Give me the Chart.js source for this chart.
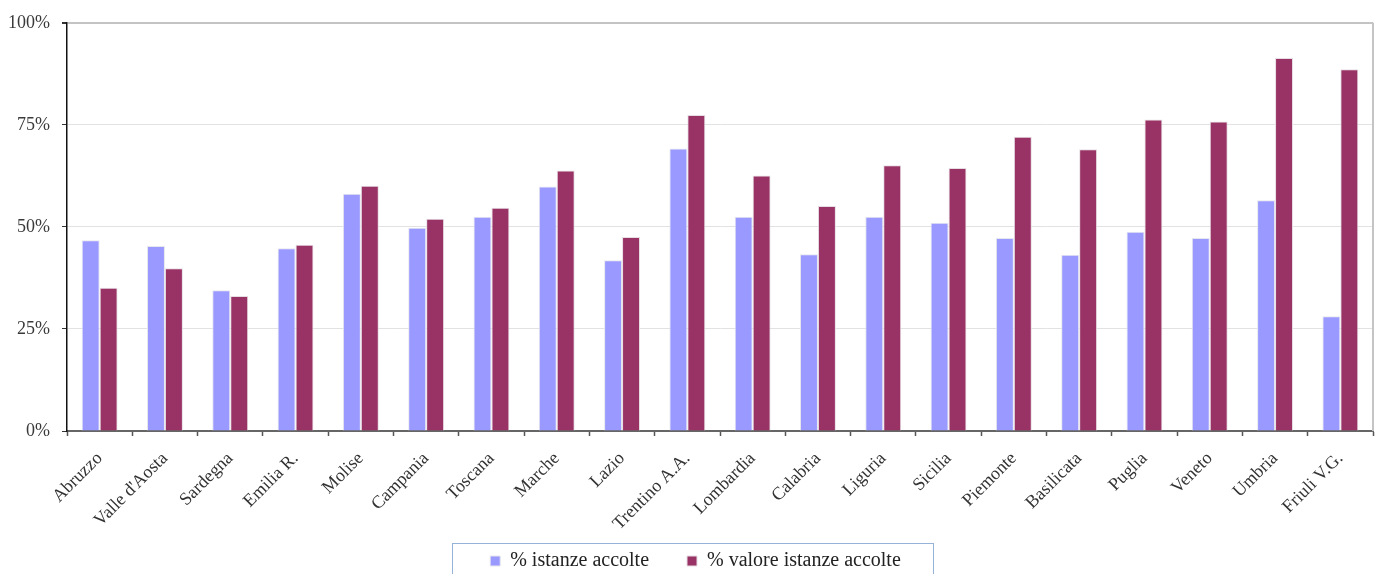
<!DOCTYPE html>
<html>
<head>
<meta charset="utf-8">
<script src="https://cdn.jsdelivr.net/npm/chart.js@4/dist/chart.umd.min.js"></script>
<style>
  html, body { margin: 0; padding: 0; background: #fff; }
  #wrap { width: 1377px; height: 574px; position: relative; }
</style>
</head>
<body>
<div id="wrap"><canvas id="regionChart"></canvas></div>
<script>
const regions = ['Abruzzo', "Valle d'Aosta", 'Sardegna', 'Emilia R.', 'Molise', 'Campania', 'Toscana', 'Marche', 'Lazio', 'Trentino A.A.',
    'Lombardia', 'Calabria', 'Liguria', 'Sicilia', 'Piemonte', 'Basilicata', 'Puglia', 'Veneto', 'Umbria', 'Friuli V.G.'];
const istanzeAccolte = [46.7, 45.3, 34.5, 44.8, 58.1, 49.8, 52.5, 59.9, 41.8, 69.2, 52.5, 43.3, 52.5, 51.0, 47.3, 43.2, 48.8, 47.3, 56.5, 28.1];
const valoreAccolte = [35.1, 39.9, 33.1, 45.6, 60.1, 52.0, 54.7, 63.8, 47.5, 77.4, 62.6, 55.1, 65.1, 64.4, 72.1, 69.0, 76.3, 75.8, 91.4, 88.6];
const yTicks = [0, 25, 50, 75, 100];
const seriesNames = ['% istanze accolte', '% valore istanze accolte'];

const serif = "'Liberation Serif', 'DejaVu Serif', serif";
const legendFont = 20;
const legendGap = 38;

// right edge of the plot, legend moved into place, and the bordered legend box
const framePlugin = {
    id: 'frame',
    afterLayout(chart) {
        const lg = chart.legend;
        // text middle should sit at y = 561, box a bit right of centre
        lg.top = 561 - legendGap - legendFont / 2;
        lg.bottom = lg.top + lg.height;
        lg.left += 9;
        lg.right += 9;
    },
    beforeDatasetsDraw(chart) {
        const { ctx, chartArea: a } = chart;
        ctx.save();
        ctx.strokeStyle = '#c4c4c4';
        ctx.lineWidth = 2;
        ctx.beginPath();
        ctx.moveTo(a.right, a.top);
        ctx.lineTo(a.right, a.bottom);
        ctx.stroke();
        ctx.restore();
    },
    afterDraw(chart) {
        const boxes = chart.legend.legendHitBoxes;
        if (!boxes || !boxes.length) return;
        const first = boxes[0], last = boxes[boxes.length - 1];
        const ctx = chart.ctx;
        ctx.save();
        ctx.strokeStyle = '#95b3d7';
        ctx.lineWidth = 1;
        ctx.strokeRect(Math.round(first.left - 38) + 0.5, 543.5, Math.round(last.left + last.width - first.left + 70), 40);
        ctx.restore();
    }
};

new Chart(document.getElementById('regionChart'), {
    type: 'bar',
    data: {
        labels: regions,
        datasets: [{
            label: seriesNames[0],
            data: istanzeAccolte,
            backgroundColor: '#9999ff',
            borderColor: '#e6e6ee',
            borderWidth: 1
        }, {
            label: seriesNames[1],
            data: valoreAccolte,
            backgroundColor: '#993366',
            borderColor: '#e6dde2',
            borderWidth: 1
        }]
    },
    options: {
        responsive: true,
        maintainAspectRatio: false,
        animation: false,
        layout: { padding: { top: 20, right: 4, left: 0, bottom: -37 } },
        datasets: { bar: { categoryPercentage: 0.55, barPercentage: 1 } },
        scales: {
            x: {
                grid: { display: true, drawOnChartArea: false, offset: true, tickLength: 5, tickColor: '#555', tickWidth: 1.5 },
                border: { color: '#666', width: 2 },
                ticks: {
                    color: '#333', minRotation: 45, maxRotation: 45, autoSkip: false,
                    font: { family: serif, size: 18 }, labelOffset: 0, padding: 12
                },
                afterFit: (scale) => { scale.height = 112; }
            },
            y: {
                min: 0, max: 100,
                afterBuildTicks: (scale) => { scale.ticks = yTicks.map(v => ({ value: v })); },
                grid: {
                    color: (c) => c.tick && c.tick.value === 100 ? '#c4c4c4' : '#e2e2e2',
                    lineWidth: (c) => c.tick && c.tick.value === 100 ? 2 : 1,
                    tickLength: 5, tickColor: '#333'
                },
                border: { color: '#111', width: 1.5 },
                ticks: {
                    color: '#3a3a3a', padding: 12,
                    font: { family: serif, size: 18 },
                    callback: (v) => v + '%'
                },
                afterFit: (scale) => { scale.width = 67; }
            }
        },
        plugins: {
            legend: {
                position: 'bottom',
                labels: {
                    color: '#222', boxWidth: 10, boxHeight: 10, padding: legendGap,
                    font: { family: serif, size: legendFont }
                }
            },
            tooltip: { enabled: false }
        }
    },
    plugins: [framePlugin]
});
</script>
</body>
</html>
